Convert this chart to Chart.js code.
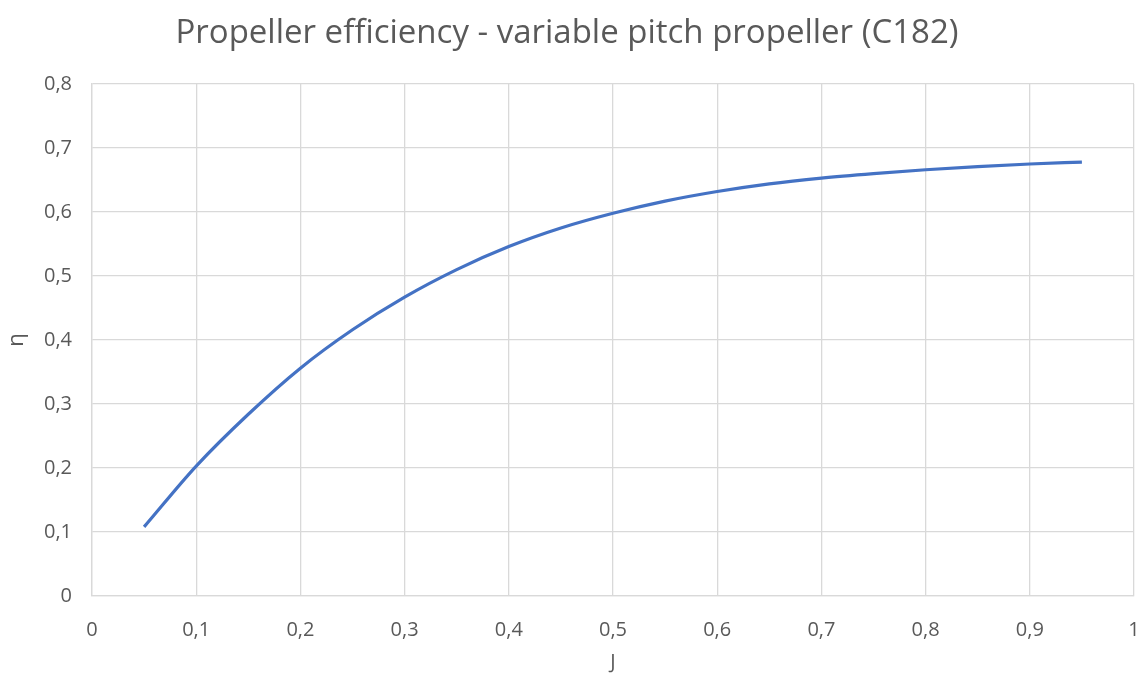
<!DOCTYPE html>
<html>
<head>
<meta charset="utf-8">
<script src="https://cdn.jsdelivr.net/npm/chart.js@4.4.1/dist/chart.umd.min.js"></script>
<style>
html,body{margin:0;padding:0;background:#fff;}
#wrap{width:1148px;height:674px;}
</style>
</head>
<body>
<div id="wrap"><canvas id="c" width="1148" height="674"></canvas></div>
<script>
const chartTitle = "Propeller efficiency - variable pitch propeller (C182)";
const xTitle = "J";
const yTitle = "η";
const J = [0.05,0.10,0.15,0.20,0.25,0.30,0.35,0.40,0.45,0.50,0.55,0.60,0.65,0.70,0.75,0.80,0.85,0.90,0.95];
const eta = [0.108,0.203,0.284,0.356,0.416,0.467,0.510,0.546,0.575,0.598,0.617,0.632,0.644,0.653,0.660,0.666,0.671,0.675,0.678];
const xTickLabels = ["0","0,1","0,2","0,3","0,4","0,5","0,6","0,7","0,8","0,9","1"];
const yTickLabels = ["0","0,1","0,2","0,3","0,4","0,5","0,6","0,7","0,8"];

const FONT = "'Open Sans', 'Liberation Sans', sans-serif";
const TXT = '#595959';
const GRID = '#D9D9D9';

new Chart(document.getElementById('c'), {
  type: 'line',
  data: {
    datasets: [{
      data: J.map((x,i)=>({x:x, y:eta[i]})),
      borderColor: '#4472C4',
      borderWidth: 3.2,
      pointRadius: 0,
      cubicInterpolationMode: 'monotone',
      fill: false
    }]
  },
  options: {
    responsive: false,
    animation: false,
    layout: {padding: {left: 0, right: 14, top: 0, bottom: 0}},
    plugins: {
      legend: {display: false},
      tooltip: {enabled: false},
      title: {
        display: true,
        text: chartTitle,
        color: TXT,
        font: {family: FONT, size: 33, weight: 'normal', lineHeight: 1.2},
        padding: {top: 13.8, bottom: 30.6}
      }
    },
    scales: {
      x: {
        type: 'linear',
        min: 0, max: 1,
        afterFit: s => { s.height = 78; s.paddingRight = 0; s.paddingLeft = 0; },
        grid: {color: GRID, drawTicks: false, lineWidth: 1.3},
        border: {color: GRID, width: 1.3},
        ticks: {
          stepSize: 0.1,
          padding: 22,
          color: TXT,
          font: {family: FONT, size: 20},
          maxRotation: 0,
          callback: (v, i) => xTickLabels[i]
        },
        title: {display: true, text: xTitle, color: TXT, font: {family: FONT, size: 20}, padding: {top: 0, bottom: 0}}
      },
      y: {
        type: 'linear',
        min: 0, max: 0.8,
        afterFit: s => { s.width = 92; s.paddingTop = 0; s.paddingBottom = 0; },
        grid: {color: GRID, drawTicks: false, lineWidth: 1.3},
        border: {color: GRID, width: 1.3},
        ticks: {
          stepSize: 0.1,
          padding: 20,
          color: TXT,
          font: {family: FONT, size: 20},
          callback: (v, i) => yTickLabels[i]
        },
        title: {display: true, text: yTitle, color: TXT, font: {family: FONT, size: 22}, padding: {top: 4, bottom: 0}}
      }
    }
  }
});
</script>
</body>
</html>
